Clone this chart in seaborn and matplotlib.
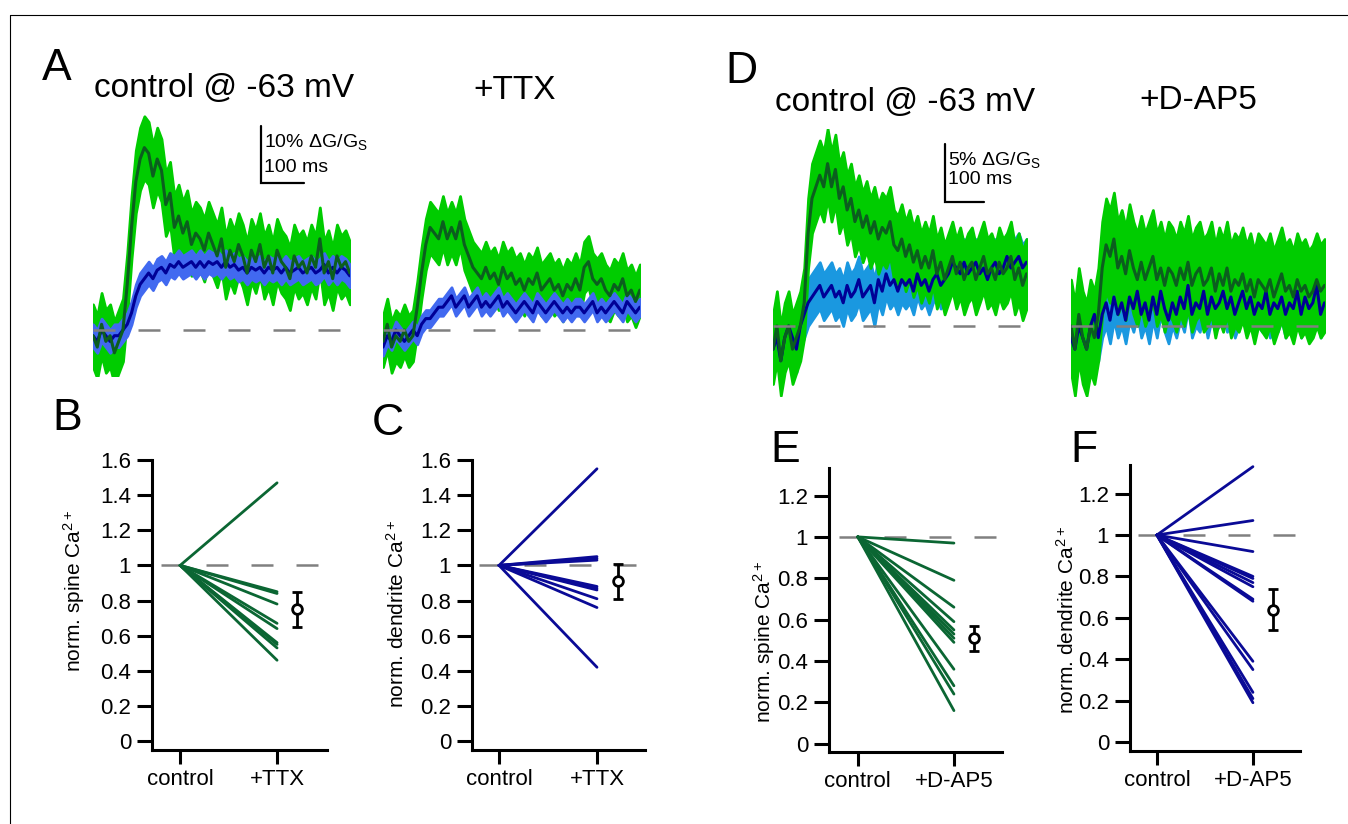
import numpy as np
import pandas as pd
import matplotlib
matplotlib.use('Agg')
import matplotlib.pyplot as plt
from matplotlib.lines import Line2D
import seaborn as sns

##################################################################################
# data
##################################################################################
# calcium transients in % dG/Gs, sampled every 10 ms
TIME_A = np.arange(0, 601, 10)
TIME_D = np.arange(0, 651, 10)

A_CTRL_SPINE = [-1, -3, 1, -2, -1, -4, -2, 0, 8, 18,
                26, 30, 32, 31, 27, 30, 28, 22, 24, 18,
                20, 17, 19, 15, 17, 16, 14, 17, 15, 13,
                16, 11, 14, 12, 15, 13, 10, 14, 12, 15,
                11, 13, 10, 14, 12, 11, 9, 13, 11, 12,
                10, 13, 11, 16, 10, 12, 9, 13, 11, 12,
                10]
A_CTRL_DEND = [-1, -2, 0, -1, -2, -1, -1, 0, 1, 3,
               6, 8, 9, 10, 9, 10.5, 11, 10, 11.5, 11,
               12, 11, 11.5, 12, 11, 12, 11, 12, 11.5, 12,
               11, 12, 11, 11.5, 10.5, 11, 10, 11, 10.5, 11,
               10, 11, 10.5, 11, 10, 11, 10, 10.5, 11, 10,
               10.5, 11, 10, 10.5, 11.5, 10, 11, 10, 11, 10.5,
               9.5]
A_TTX_SPINE = [-2, 1, -3, -1, -2, 0, -2, -1, 4, 10,
               15, 18, 17, 16, 19, 16, 18, 16, 19, 15,
               13, 11, 10, 9, 11, 9, 10, 8, 11, 9,
               10, 8, 9, 7, 9, 8, 10, 7, 8, 9,
               7, 8, 6, 8, 7, 9, 7, 11, 12, 9,
               8, 9, 7, 6, 8, 7, 9, 6, 7, 5,
               7]
A_TTX_DEND = [-3, -1, -2, 0, -1, -2, -1, 0, -1, 1,
              2, 2, 3, 4, 4, 5, 6, 4, 5, 6,
              4, 5, 6, 4, 5, 4, 5, 6, 4, 5,
              4, 3, 4, 5, 4, 3, 5, 4, 3, 4,
              5, 4, 3, 4, 3, 4, 4, 3, 4, 5,
              3, 4, 3, 4, 5, 4, 3, 5, 4, 3,
              4]
D_CTRL_SPINE = [-2, 0, -3, -1, 0, -2, -1, 0, 2, 8,
                11, 12, 13, 12, 14, 12, 13.5, 11, 12, 10,
                11, 9, 10, 8.5, 9.5, 8, 9, 7.5, 8.5, 8,
                9, 7, 6.5, 7.5, 6, 7, 5.5, 6.5, 5, 6,
                5, 6.5, 4.5, 5.5, 4, 5, 6, 4.5, 5.5, 4,
                5, 5.5, 4, 5, 6, 4.5, 5, 4, 5.5, 4.5,
                5, 6, 4, 5, 3.5, 4.5]
D_CTRL_DEND = [-2, -1, -3, -1, 0, -1, -2, 0, 1, 2,
               2.5, 3, 3.5, 2.5, 3, 3.5, 2.5, 3, 2, 3.5,
               2.5, 3, 4, 2.5, 3, 3.5, 2, 4, 3, 4.5,
               3.5, 4, 3, 4, 3.5, 4, 3, 4.5, 3.5, 4,
               3, 4, 4.5, 3.5, 4, 4.5, 5.5, 5, 4.5, 5.5,
               4.5, 5, 5.5, 4.5, 5, 4, 5, 5.5, 4.5, 5,
               6, 5, 5.5, 6, 5, 5.5]
D_AP5_SPINE = [0, -2, 1, -1, -2, 0, -1, 1, 5, 7,
               6, 7.5, 5, 6, 4.5, 6.5, 5, 4, 5.5, 4,
               5, 6, 4, 5, 3.5, 5, 4.5, 3.5, 5, 4,
               5.5, 3.5, 4.5, 5, 3.5, 4, 5, 3, 4.5, 3.5,
               5, 3, 4, 3.5, 4.5, 3, 4, 2.5, 4, 3.5,
               3, 4, 2.5, 3.5, 4.5, 3, 3.5, 2.5, 4, 3,
               3.5, 2.5, 3, 4, 3, 3.5]
D_AP5_DEND = [-1, -2, 0, -1, -2, 0, 1, -1, 1, 2,
              0.5, 2.5, 1, 2, 0.5, 2.5, 1.5, 3, 1, 2,
              0.5, 2.5, 1, 3, 1.5, 0.5, 2, 1, 2.5, 1.5,
              3.5, 1, 2, 1.5, 3, 1, 2.5, 1.5, 2, 3,
              1.5, 2.5, 1, 2, 3, 1.5, 2.5, 1, 2, 1.5,
              3, 1, 2, 1.5, 2.5, 1, 2, 1.5, 3, 1,
              2.5, 1.5, 2, 3.5, 1, 2]

# s.e.m. of each transient (%)
SEM_A_CTRL = (5.5, 2.0)
SEM_A_TTX = (4.5, 1.5)
SEM_D_CTRL = (3.0, 2.0)
SEM_D_AP5 = (4.0, 2.0)

# normalised amplitudes, drug / control, one value per cell
B_SPINE_TTX = [1.47, 0.85, 0.84, 0.78, 0.67, 0.64, 0.56, 0.55, 0.53, 0.46]
C_DEND_TTX = [1.55, 1.05, 1.04, 1.03, 0.88, 0.87, 0.86, 0.81, 0.76, 0.42]
E_SPINE_AP5 = [0.97, 0.79, 0.66, 0.59, 0.55, 0.53, 0.51, 0.49, 0.36, 0.28,
               0.24, 0.16]
F_DEND_AP5 = [1.33, 1.07, 0.92, 0.80, 0.79, 0.77, 0.75, 0.69, 0.68, 0.39,
              0.35, 0.24, 0.21, 0.19]

# mean +- sem of each summary
B_MEAN, B_ERR = 0.75, 0.10
C_MEAN, C_ERR = 0.91, 0.10
E_MEAN, E_ERR = 0.51, 0.06
F_MEAN, F_ERR = 0.64, 0.10

##################################################################################
# styles
##################################################################################
sns.set_style('ticks')
plt.rcParams['font.family'] = ['Liberation Sans', 'DejaVu Sans']
plt.rcParams['mathtext.default'] = 'regular'
for key in ('text.color', 'axes.labelcolor', 'xtick.color', 'ytick.color',
            'axes.edgecolor'):
    plt.rcParams[key] = 'black'

GREEN_BAND = '#00cc00'
GREEN_MEAN = '#0b5e1e'
BLUE_MEAN = '#000096'
BLUE_BAND_A = '#4169f0'
BLUE_BAND_D = '#1a98e0'
SPINE_LINE = '#0b6633'
DEND_LINE = '#0a0a96'
GREY = '#808080'
DASH = (8.8, 9.2)

W, H = 1348, 824
fig = plt.figure(figsize=(W / 100, H / 100), dpi=100)


def px_axes(left, top, right, bottom):
    return fig.add_axes([left / W, 1 - bottom / H, (right - left) / W,
                         (bottom - top) / H])


def ftext(x, y, s, size, ha='left'):
    fig.text(x / W, 1 - y / H, s, fontsize=size, ha=ha, va='baseline')


# figure frame: top and left edges only
fig.add_artist(Line2D([10 / W, 1], [1 - 15 / H, 1 - 15 / H], color='black',
                      lw=0.8, transform=fig.transFigure))
fig.add_artist(Line2D([10 / W, 10 / W], [1 - 15 / H, 0], color='black',
                      lw=0.8, transform=fig.transFigure))


##################################################################################
# traces
##################################################################################
def trace_panel(ax, t, spine, dend, sem, blue_band, green_first, tmax, ylim):
    spine = np.asarray(spine, float)
    dend = np.asarray(dend, float)
    bands = [(spine, sem[0], GREEN_BAND), (dend, sem[1], blue_band)]
    if not green_first:
        bands = bands[::-1]
    for k, (y, s, c) in enumerate(bands):
        ax.fill_between(t, y - s, y + s, color=c, lw=2, zorder=1 + k)
    sns.lineplot(x=t, y=dend, ax=ax, color=BLUE_MEAN, lw=2.2, zorder=4)
    sns.lineplot(x=t, y=spine, ax=ax, color=GREEN_MEAN, lw=2.2, zorder=5)
    ax.plot([0, tmax], [0, 0], color=GREY, lw=1.8, dashes=DASH, zorder=6)
    ax.set_xlim(0, tmax)
    ax.set_ylim(*ylim)
    ax.axis('off')


def scale_bar(ax, x0, y0, dy):
    ax.plot([x0, x0, x0 + 100], [y0 + dy, y0, y0], color='black', lw=1.6,
            clip_on=False, solid_joinstyle='miter')


# A: 0.428 px per ms, 5.7 px per %, baseline at y = 330
axA1 = px_axes(93, 330 - 5.7 * 40, 93 + 0.428 * 600, 330 + 5.7 * 8)
trace_panel(axA1, TIME_A, A_CTRL_SPINE, A_CTRL_DEND, SEM_A_CTRL, BLUE_BAND_A,
            True, 600, (-8, 40))
axA2 = px_axes(383, 330 - 5.7 * 40, 383 + 0.428 * 600, 330 + 5.7 * 8)
trace_panel(axA2, TIME_A, A_TTX_SPINE, A_TTX_DEND, SEM_A_TTX, BLUE_BAND_A,
            True, 600, (-8, 40))
scale_bar(axA1, 392, 25.8, 10)
axA1.text(400, 32.1, '10% ΔG/G$_S$', fontsize=14, va='baseline')
axA1.text(400, 27.7, '100 ms', fontsize=14, va='baseline')

# D: 0.39 px per ms, 11.6 px per %, baseline at y = 326
axD1 = px_axes(773, 326 - 11.6 * 17, 773 + 0.39 * 650, 326 + 11.6 * 6)
trace_panel(axD1, TIME_D, D_CTRL_SPINE, D_CTRL_DEND, SEM_D_CTRL, BLUE_BAND_D,
            False, 650, (-6, 17))
axD2 = px_axes(1071, 326 - 11.6 * 17, 1071 + 0.39 * 650, 326 + 11.6 * 6)
trace_panel(axD2, TIME_D, D_AP5_SPINE, D_AP5_DEND, SEM_D_AP5, BLUE_BAND_D,
            False, 650, (-6, 17))
scale_bar(axD1, 441, 10.7, 5)
axD1.text(449, 13.9, '5% ΔG/G$_S$', fontsize=14, va='baseline')
axD1.text(449, 12.2, '100 ms', fontsize=14, va='baseline')


##################################################################################
# paired summaries
##################################################################################
def paired_panel(ax, vals, mean, err, color, drug, ylabel, xlim, ylim, yticks,
                 label_xy):
    df = pd.DataFrame({
        'cell': np.repeat(np.arange(len(vals)), 2),
        'cond': np.tile([0, 1], len(vals)),
        'val': np.ravel([[1.0, v] for v in vals]),
    })
    ax.plot([-0.2, xlim[1]], [1, 1], color=GREY, lw=1.8, dashes=DASH,
            zorder=1)
    sns.lineplot(data=df, x='cond', y='val', units='cell', estimator=None,
                 color=color, lw=2, ax=ax, legend=False, zorder=2)
    ax.errorbar(1.21, mean, yerr=err, fmt='o', ms=7, mfc='white',
                mec='black', mew=2, ecolor='black', elinewidth=2, capsize=3.5,
                capthick=2, zorder=5, clip_on=False)
    ax.set_xlim(*xlim)
    ax.set_ylim(*ylim)
    ax.set_xticks([0, 1])
    ax.set_xticklabels(['control', drug])
    ax.set_yticks(yticks)
    ax.set_yticklabels(['%g' % v for v in yticks])
    ax.set_xlabel('')
    ax.set_ylabel(ylabel, fontsize=15)
    ax.yaxis.set_label_coords(*label_xy)
    sns.despine(ax=ax)
    for s in ('left', 'bottom'):
        ax.spines[s].set_linewidth(2.2)
    ax.tick_params(axis='y', length=11, width=2.2, pad=4, labelsize=16)
    ax.tick_params(axis='x', length=10, width=2.2, pad=4, labelsize=16)
    ax.patch.set_alpha(0)


ticks16 = np.round(np.arange(0, 1.61, 0.2), 1)
ticks12 = np.round(np.arange(0, 1.21, 0.2), 1)

axB = px_axes(152, 460, 327, 750)
paired_panel(axB, B_SPINE_TTX, B_MEAN, B_ERR, SPINE_LINE, '+TTX',
             'norm. spine Ca$^{2+}$', (-0.29, 1.515), (-0.051, 1.6), ticks16,
             (-0.37, 0.55))
axC = px_axes(472, 460, 645, 750)
paired_panel(axC, C_DEND_TTX, C_MEAN, C_ERR, DEND_LINE, '+TTX',
             'norm. dendrite Ca$^{2+}$', (-0.276, 1.49), (-0.051, 1.6),
             ticks16, (-0.37, 0.47))
axE = px_axes(829, 468, 1002, 752)
paired_panel(axE, E_SPINE_AP5, E_MEAN, E_ERR, SPINE_LINE, '+D-AP5',
             'norm. spine Ca$^{2+}$', (-0.30, 1.5), (-0.04, 1.333), ticks12,
             (-0.30, 0.39))
axF = px_axes(1130, 465, 1300, 751)
paired_panel(axF, F_DEND_AP5, F_MEAN, F_ERR, DEND_LINE, '+D-AP5',
             'norm. dendrite Ca$^{2+}$', (-0.28, 1.49), (-0.043, 1.338),
             ticks12, (-0.31, 0.46))

##################################################################################
# titles and panel letters
##################################################################################
ftext(224, 97, 'control @ -63 mV', 24, ha='center')
ftext(515, 99, '+TTX', 24, ha='center')
ftext(905, 111, 'control @ -63 mV', 24, ha='center')
ftext(1198, 109, '+D-AP5', 24, ha='center')

for letter, x, y in [('A', 42, 80), ('D', 725, 83), ('B', 52, 430),
                     ('C', 372, 435), ('E', 770, 462), ('F', 1070, 462)]:
    ftext(x, y, letter, 32)

plt.savefig('out.png', dpi=100)
